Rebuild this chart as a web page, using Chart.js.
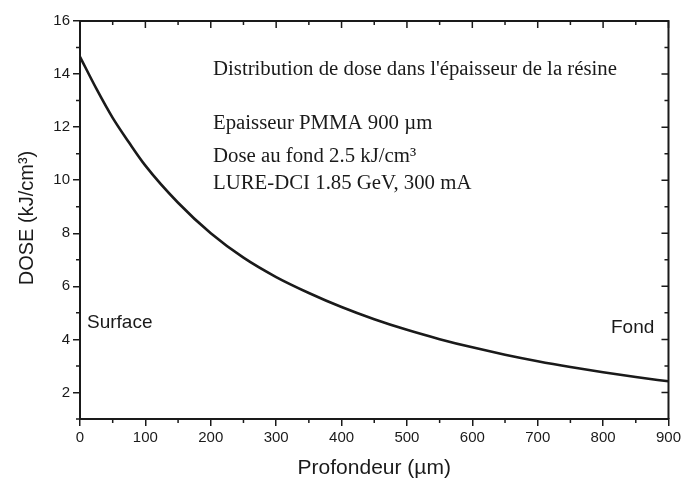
<!DOCTYPE html>
<html>
<head>
<meta charset="utf-8">
<script src="https://cdn.jsdelivr.net/npm/chart.js@4/dist/chart.umd.min.js"></script>
<style>
  html, body { margin: 0; padding: 0; background: #fff; }
  #chart { display: block; }
</style>
</head>
<body>
<canvas id="chart" width="684" height="483"></canvas>
<script>
// depth in the resist (µm) and dose (kJ/cm3)
const depth = [0, 25, 50, 75, 100, 150, 200, 250, 300, 350, 400, 450, 500, 550, 600, 650, 700, 750, 800, 850, 900];
const dose = [14.65, 13.45, 12.35, 11.42, 10.55, 9.15, 8.0, 7.08, 6.35, 5.75, 5.22, 4.76, 4.36, 4.01, 3.70, 3.425, 3.18, 2.96, 2.76, 2.58, 2.42];

const xTicks = [0, 100, 200, 300, 400, 500, 600, 700, 800, 900];
const xMinor = [50, 150, 250, 350, 450, 550, 650, 750, 850];
const yTicks = [2, 4, 6, 8, 10, 12, 14, 16];
const yMinor = [1, 3, 5, 7, 9, 11, 13, 15];

const ink = "#1a1a1a";
const sans = "'Liberation Sans', Arial, sans-serif";
const serif = "'Liberation Serif', 'Times New Roman', serif";

const notes = [
    { text: "Distribution de dose dans l'épaisseur de la résine", x: 213, y: 75 },
    { text: "Epaisseur PMMA 900 µm", x: 213, y: 129 },
    { text: "Dose au fond 2.5 kJ/cm³", x: 213, y: 162 },
    { text: "LURE-DCI 1.85 GeV, 300 mA", x: 213, y: 189 }
];

//-----------------------
const framePlugin = {
    id: "frame",
    afterDraw: (chart) => {
        const ctx = chart.ctx;
        const a = chart.chartArea;
        const sx = chart.scales.x;
        const sy = chart.scales.y;
        ctx.save();
        ctx.strokeStyle = ink;

        // top and right border
        ctx.lineWidth = 2;
        ctx.beginPath();
        ctx.moveTo(a.left, a.top);
        ctx.lineTo(a.right, a.top);
        ctx.lineTo(a.right, a.bottom);
        ctx.stroke();

        ctx.lineWidth = 1.5;
        ctx.beginPath();
        // minor ticks: outside on bottom / left, inside on top / right
        xMinor.forEach(v => {
            const px = sx.getPixelForValue(v);
            ctx.moveTo(px, a.bottom);
            ctx.lineTo(px, a.bottom + 4);
            ctx.moveTo(px, a.top);
            ctx.lineTo(px, a.top + 4);
        });
        yMinor.forEach(v => {
            const py = sy.getPixelForValue(v);
            ctx.moveTo(a.left, py);
            ctx.lineTo(a.left - 4, py);
            ctx.moveTo(a.right, py);
            ctx.lineTo(a.right - 4, py);
        });
        // major ticks inside on top / right
        xTicks.forEach(v => {
            const px = sx.getPixelForValue(v);
            ctx.moveTo(px, a.top);
            ctx.lineTo(px, a.top + 7);
        });
        yTicks.forEach(v => {
            const py = sy.getPixelForValue(v);
            ctx.moveTo(a.right, py);
            ctx.lineTo(a.right - 7, py);
        });
        ctx.stroke();

        // annotations
        ctx.fillStyle = ink;
        ctx.textBaseline = "alphabetic";
        ctx.textAlign = "left";
        ctx.font = "20.8px " + serif;
        notes.forEach(n => ctx.fillText(n.text, n.x, n.y));

        ctx.font = "19px " + sans;
        ctx.fillText("Surface", 87, 328);
        ctx.fillText("Fond", 611, 333);

        // axis titles
        ctx.textAlign = "center";
        ctx.textBaseline = "middle";
        ctx.font = "21px " + sans;
        ctx.fillText("Profondeur (µm)", (a.left + a.right) / 2, 468);

        ctx.translate(27, 218);
        ctx.rotate(-Math.PI / 2);
        ctx.font = "20px " + sans;
        ctx.fillText("DOSE (kJ/cm³)", 0, 0);
        ctx.restore();
    }
};

//-----------------------
const doseChart = new Chart(document.getElementById("chart"), {
    type: "line",
    data: {
        datasets: [{
            label: "Dose",
            data: depth.map((d, i) => ({ x: d, y: dose[i] })),
            borderColor: ink,
            borderWidth: 2.6,
            pointRadius: 0,
            cubicInterpolationMode: "monotone",
            fill: false
        }]
    },
    options: {
        responsive: false,
        animation: false,
        layout: { padding: { top: 21, right: 13, left: 0, bottom: 0 } },
        plugins: {
            legend: { display: false },
            tooltip: { enabled: false }
        },
        scales: {
            x: {
                type: "linear",
                min: 0,
                max: 900,
                afterBuildTicks: (s) => { s.ticks = xTicks.map(v => ({ value: v })); },
                afterFit: (s) => { s.height = 64; },
                ticks: {
                    autoSkip: false,
                    maxRotation: 0,
                    padding: 3,
                    color: ink,
                    font: { family: sans, size: 15 }
                },
                grid: { drawOnChartArea: false, tickLength: 7, color: ink, lineWidth: 1.5 },
                border: { color: ink, width: 2 }
            },
            y: {
                type: "linear",
                min: 1,
                max: 16,
                afterBuildTicks: (s) => { s.ticks = yTicks.map(v => ({ value: v })); },
                afterFit: (s) => { s.width = 80; },
                ticks: {
                    padding: 3,
                    color: ink,
                    font: { family: sans, size: 15 }
                },
                grid: { drawOnChartArea: false, tickLength: 7, color: ink, lineWidth: 1.5 },
                border: { color: ink, width: 2 }
            }
        }
    },
    plugins: [framePlugin]
});
</script>
</body>
</html>
